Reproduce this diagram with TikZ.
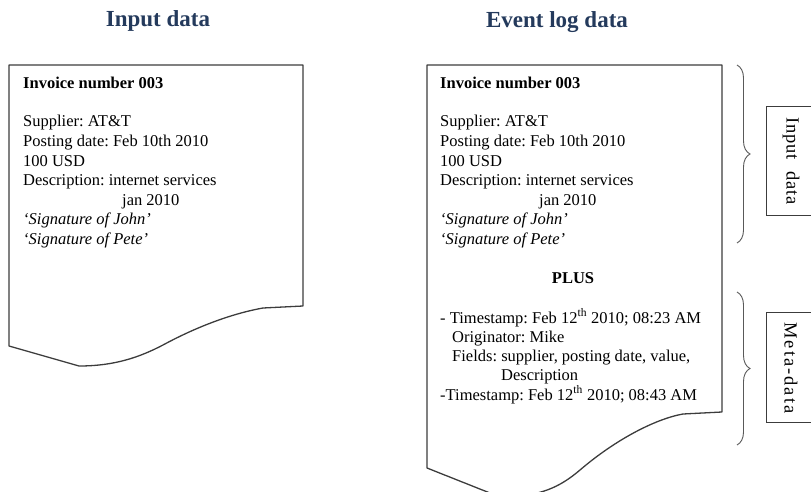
\documentclass[tikz,border=0pt]{standalone}
\usepackage{fontspec}
\setmainfont{Liberation Serif}
\newfontfamily\sidefont[LetterSpace=5]{Liberation Serif}
\newfontfamily\metafont[LetterSpace=11]{Liberation Serif}
\usetikzlibrary{decorations.pathreplacing}
\definecolor{titleblue}{RGB}{36,58,92}
\definecolor{lineg}{RGB}{60,60,60}
\frenchspacing

\begin{document}
\begin{tikzpicture}[x=1pt,y=-1pt,
	docline/.style={draw=lineg,line width=1.3pt,line join=round},
	title/.style={font=\fontsize{23}{26}\selectfont\bfseries,text=titleblue},
	doctext/.style={anchor=base west,inner sep=0pt,font=\fontsize{16.5}{19.5}\selectfont},
	sidebox/.style={draw=lineg,line width=1pt},
	sidelabel/.style={rotate=-90,inner sep=0pt},
	bracepath/.style={draw=lineg!85,line width=0.9pt,decorate,decoration={brace,amplitude=13pt}}]
	\path[use as bounding box,clip] (0,0) rectangle (811,492);
	% titles
	\node[title] (tin) at (158,21) {Input data};
	\node[title] (tev) at (557,22) {Event log data};
	% document shapes
	\draw[docline] (9,65) -- (303,65) -- (303,306) -- (263,308) .. controls (235,313) and (200,325) .. (163,345) .. controls (140,357) and (115,366) .. (79,366) -- (9,346) -- cycle;
	\draw[docline] (427,65) -- (722,65) -- (722,412) -- (683,414) .. controls (655,419) and (615,440) .. (580,470) .. controls (560,487) and (540,497) .. (500,497) -- (427,468) -- cycle;
	% input data document
	\node[doctext,font=\fontsize{16.5}{19.5}\selectfont\bfseries] (a1) at (23,89) {Invoice number 003};
	\node[doctext] (a2) at (23,127) {Supplier: AT\&T};
	\node[doctext] (a3) at (23,146.5) {Posting date: Feb 10th 2010};
	\node[doctext] (a4) at (23,166) {100 USD};
	\node[doctext] (a5) at (23,185.5) {Description: internet services};
	\node[doctext] (a6) at (122,205) {jan 2010};
	\node[doctext] (a7) at (23,224.5) {\itshape `Signature of John'};
	\node[doctext] (a8) at (23,244) {\itshape `Signature of Pete'};
	% event log document
	\node[doctext,font=\fontsize{16.5}{19.5}\selectfont\bfseries] (b1) at (440,89) {Invoice number 003};
	\node[doctext] (b2) at (440,127) {Supplier: AT\&T};
	\node[doctext] (b3) at (440,146.5) {Posting date: Feb 10th 2010};
	\node[doctext] (b4) at (440,166) {100 USD};
	\node[doctext] (b5) at (440,185.5) {Description: internet services};
	\node[doctext] (b6) at (539,205) {jan 2010};
	\node[doctext] (b7) at (440,224.5) {\itshape `Signature of John'};
	\node[doctext] (b8) at (440,244) {\itshape `Signature of Pete'};
	\node[doctext,anchor=base,font=\fontsize{16.5}{19.5}\selectfont\bfseries] (plus) at (573,283) {PLUS};
	\node[doctext] (m1) at (440,323) {- Timestamp: Feb 12\textsuperscript{th} 2010; 08:23 AM};
	\node[doctext] (m2) at (452,342) {Originator: Mike};
	\node[doctext] (m3) at (452,361) {Fields: supplier, posting date, value,};
	\node[doctext] (m4) at (501,380) {Description};
	\node[doctext] (m5) at (440,400) {-Timestamp: Feb 12\textsuperscript{th} 2010; 08:43 AM};
	% braces and side labels
	\coordinate (u1) at (737,65);
	\coordinate (u2) at (737,243);
	\coordinate (l1) at (737,292);
	\coordinate (l2) at (737,445);
	\draw[bracepath] (u1) -- (u2);
	\draw[bracepath] (l1) -- (l2);
	\draw[sidebox] (830,107) -- (766,107) -- (766,215) -- (830,215);
	\draw[sidebox] (830,312) -- (766,312) -- (766,422) -- (830,422);
	\node[sidelabel,font=\sidefont\fontsize{18.5}{20}\selectfont] (sin) at (791,161) {Input\hspace{11pt}data};
	\node[sidelabel,font=\metafont\fontsize{18.5}{20}\selectfont] (smeta) at (791,368) {Meta-data};
\end{tikzpicture}
\end{document}
